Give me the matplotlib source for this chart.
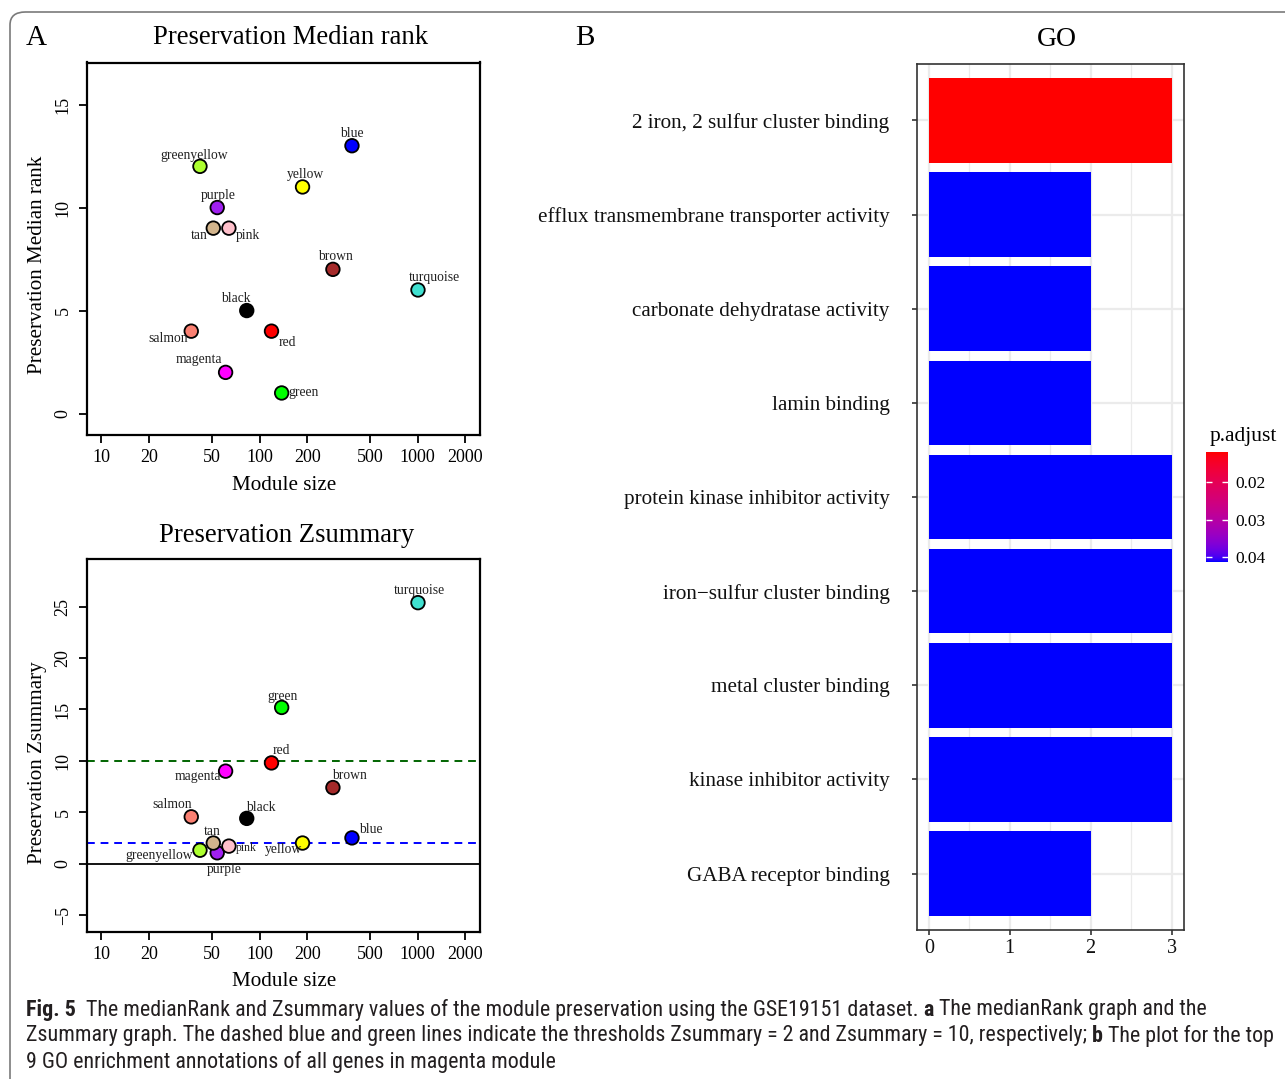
import numpy as np
import matplotlib
matplotlib.use("Agg")
import matplotlib.pyplot as plt
from matplotlib import font_manager
from matplotlib.colors import LinearSegmentedColormap, Normalize
from matplotlib.patches import FancyBboxPatch

# ---------------- data ----------------
modules = ['blue', 'greenyellow', 'yellow', 'purple', 'tan', 'pink', 'brown',
           'turquoise', 'black', 'salmon', 'red', 'magenta', 'green']
module_colors = ['#0000FF', '#ADFF2F', '#FFFF00', '#A020F0', '#D2B48C', '#FFC0CB', '#A52A2A',
                 '#40E0D0', '#000000', '#FA8072', '#FF0000', '#FF00FF', '#00FF00']
module_size = [384, 42, 187, 54, 51, 64, 291, 1004, 83, 37, 119, 61, 138]
median_rank = [13, 12, 11, 10, 9, 9, 7, 6, 5, 4, 4, 2, 1]
zsummary = [2.5, 1.3, 2.0, 1.05, 2.0, 1.7, 7.4, 25.4, 4.4, 4.55, 9.8, 9.0, 15.2]

size_ticks = [10, 20, 50, 100, 200, 500, 1000, 2000]
rank_ticks = [0, 5, 10, 15]
z_ticks = [-5, 0, 5, 10, 15, 20, 25]
z_thresholds = [2, 10]

go_terms = ['2 iron, 2 sulfur cluster binding',
            'efflux transmembrane transporter activity',
            'carbonate dehydratase activity',
            'lamin binding',
            'protein kinase inhibitor activity',
            'iron\u2212sulfur cluster binding',
            'metal cluster binding',
            'kinase inhibitor activity',
            'GABA receptor binding']
go_counts = [3, 2, 2, 2, 3, 3, 3, 3, 2]
go_padj = [0.0120, 0.0413, 0.0413, 0.0413, 0.0413, 0.0413, 0.0413, 0.0413, 0.0413]
padj_ticks = [0.02, 0.03, 0.04]
count_ticks = [0, 1, 2, 3]

# label placement offsets (points) for the two scatter panels: (dx, dy, ha, va)
top_offsets = {
    'blue': (0, 9, 'center', 'center'), 'greenyellow': (-4, 8, 'center', 'center'),
    'yellow': (2, 9, 'center', 'center'), 'purple': (1, 9, 'center', 'center'),
    'tan': (-4, -5, 'right', 'center'), 'pink': (5, -5, 'left', 'center'),
    'brown': (2, 9, 'center', 'center'), 'turquoise': (12, 9, 'center', 'center'),
    'black': (-8, 9, 'center', 'center'), 'salmon': (-2, -5, 'right', 'center'),
    'red': (5, -8, 'left', 'center'), 'magenta': (-19, 9, 'center', 'center'),
    'green': (5, 0, 'left', 'center'),
}
bot_offsets = {
    'turquoise': (1, 9, 'center', 'center'), 'green': (1, 8, 'center', 'center'),
    'red': (7, 9, 'center', 'center'), 'magenta': (-3, -4, 'right', 'center'),
    'brown': (12, 9, 'center', 'center'), 'salmon': (-14, 9, 'center', 'center'),
    'black': (10, 8, 'center', 'center'), 'blue': (5, 6, 'left', 'center'),
    'yellow': (-14, -5, 'center', 'center'), 'tan': (-1, 8, 'center', 'center'),
    'pink': (5, -1, 'left', 'center'), 'greenyellow': (-5, -4, 'right', 'center'),
    'purple': (5, -12, 'center', 'center'),
}

# ---------------- fonts ----------------
avail = {f.name for f in font_manager.fontManager.ttflist}
SERIF = 'Liberation Serif' if 'Liberation Serif' in avail else 'DejaVu Serif'
cap_font = 'DejaVu Sans'
for cand in ['Liberation Sans Narrow', 'Roboto Condensed', 'Open Sans Condensed', 'Liberation Sans']:
    if cand in avail:
        cap_font = cand
        break
plt.rcParams['font.family'] = [SERIF, 'DejaVu Serif']
plt.rcParams['mathtext.fontset'] = 'stix'

W, H = 1285, 1079
fig = plt.figure(figsize=(W / 100, H / 100), dpi=100)


def rect(l, t, r, b):
    return [l / W, 1 - b / H, (r - l) / W, (b - t) / H]


def fxy(x, y):
    return x / W, 1 - y / H


# outer rounded frame
frame = FancyBboxPatch(fxy(10, 1100), (1320 - 10) / W, (1100 - 12) / H,
                       boxstyle="round,pad=0,rounding_size=0.012",
                       transform=fig.transFigure, fill=False,
                       edgecolor='#7a7a7a', linewidth=1.2, clip_on=False)
fig.patches.append(frame)


def scatter_panel(ax, yvals, offsets, ylim, yticks):
    ax.set_xscale('log')
    ax.set_xlim(8.11, 2477)
    ax.set_ylim(*ylim)
    ax.scatter(module_size, yvals, s=95, c=module_colors, edgecolors='black',
               linewidths=1.3, zorder=3)
    for name, xs, yv in zip(modules, module_size, yvals):
        dx, dy, ha, va = offsets[name]
        fs = 8.4 if (name == 'pink' and offsets is bot_offsets) else 9.8
        ax.annotate(name, (xs, yv), xytext=(dx, dy), textcoords='offset points',
                    ha=ha, va=va, fontsize=fs, color='#222222', zorder=4)
    ax.set_xticks(size_ticks)
    ax.set_xticklabels([str(v) for v in size_ticks])
    ax.minorticks_off()
    ax.set_yticks(yticks)
    ax.set_yticklabels([str(v).replace('-', '\u2212') for v in yticks],
                       rotation=90, va='center')
    ax.tick_params(axis='both', direction='out', length=6, width=1.3,
                   labelsize=13, pad=4)
    ax.tick_params(axis='y', pad=5)
    for sp in ax.spines.values():
        sp.set_linewidth(1.6)


# --- top scatter
ax1 = fig.add_axes(rect(87, 62.5, 480, 435))
scatter_panel(ax1, median_rank, top_offsets, (-1.04, 17.04), rank_ticks)
fig.text(*fxy(291, 38), 'Preservation Median rank', ha='center', va='center', fontsize=19.2)
fig.text(*fxy(38, 265), 'Preservation Median rank', ha='center', va='center',
         rotation=90, fontsize=15.2)
fig.text(*fxy(284, 486), 'Module size', ha='center', va='center', fontsize=15.2)

# --- bottom scatter
ax2 = fig.add_axes(rect(87, 558.5, 480, 932.3))
ax2.axhline(0, color='black', linewidth=1.3, zorder=1)
ax2.axhline(z_thresholds[0], color='blue', linestyle=(0, (4, 3)), linewidth=1.4, zorder=1)
ax2.axhline(z_thresholds[1], color='#006400', linestyle=(0, (4, 3)), linewidth=1.4, zorder=1)
scatter_panel(ax2, zsummary, bot_offsets, (-6.69, 29.7), z_ticks)
fig.text(*fxy(287, 535), 'Preservation Zsummary', ha='center', va='center', fontsize=19.2)
fig.text(*fxy(38, 763), 'Preservation Zsummary', ha='center', va='center',
         rotation=90, fontsize=15.2)
fig.text(*fxy(284, 982), 'Module size', ha='center', va='center', fontsize=15.2)

fig.text(*fxy(36, 38), 'A', ha='center', va='center', fontsize=21)
fig.text(*fxy(585, 38), 'B', ha='center', va='center', fontsize=21)


# --- GO bar chart
def srgb_to_lab(rgb):
    rgb = np.asarray(rgb, float)
    lin = np.where(rgb <= 0.04045, rgb / 12.92, ((rgb + 0.055) / 1.055) ** 2.4)
    M = np.array([[0.4124, 0.3576, 0.1805], [0.2126, 0.7152, 0.0722], [0.0193, 0.1192, 0.9505]])
    xyz = M @ lin
    wp = np.array([0.95047, 1.0, 1.08883])
    t = xyz / wp
    f = np.where(t > (6 / 29) ** 3, np.cbrt(t), t / (3 * (6 / 29) ** 2) + 4 / 29)
    return np.array([116 * f[1] - 16, 500 * (f[0] - f[1]), 200 * (f[1] - f[2])])


def lab_to_srgb(lab):
    L, a, b = lab
    fy = (L + 16) / 116
    fx = fy + a / 500
    fz = fy - b / 200
    f = np.array([fx, fy, fz])
    t = np.where(f > 6 / 29, f ** 3, 3 * (6 / 29) ** 2 * (f - 4 / 29))
    xyz = t * np.array([0.95047, 1.0, 1.08883])
    Minv = np.array([[3.2406, -1.5372, -0.4986], [-0.9689, 1.8758, 0.0415], [0.0557, -0.2040, 1.0570]])
    lin = Minv @ xyz
    lin = np.clip(lin, 0, 1)
    rgb = np.where(lin <= 0.0031308, 12.92 * lin, 1.055 * lin ** (1 / 2.4) - 0.055)
    return np.clip(rgb, 0, 1)


lab_r = srgb_to_lab([1, 0, 0])
lab_b = srgb_to_lab([0, 0, 1])
cols = [lab_to_srgb(lab_r + (lab_b - lab_r) * t) for t in np.linspace(0, 1, 64)]
cmap = LinearSegmentedColormap.from_list('rb', cols)
norm = Normalize(vmin=min(go_padj), vmax=max(go_padj))

ax3 = fig.add_axes(rect(916.7, 64, 1183.7, 930))
ypos = np.arange(len(go_terms))[::-1] + 1
ax3.barh(ypos, go_counts, height=0.9, color=cmap(norm(go_padj)), zorder=3)
ax3.set_xlim(-0.15, 3.15)
ax3.set_ylim(0.4, len(go_terms) + 0.6)
ax3.set_xticks(count_ticks)
ax3.set_xticks([0.5, 1.5, 2.5], minor=True)
ax3.set_yticks(ypos)
ax3.set_yticklabels(go_terms)
ax3.grid(which='major', color='#EBEBEB', linewidth=1.6, zorder=0)
ax3.grid(which='minor', axis='x', color='#EBEBEB', linewidth=0.9, zorder=0)
ax3.tick_params(axis='both', which='major', direction='out', length=3.5, width=1.2,
                color='#333333', labelsize=15.2, labelcolor='#111111')
ax3.tick_params(axis='y', pad=16)
ax3.tick_params(axis='x', labelsize=14.5, pad=3)
ax3.tick_params(which='minor', length=0)
for sp in ax3.spines.values():
    sp.set_color('#333333')
    sp.set_linewidth(1.2)
ax3.set_axisbelow(True)
fig.text(*fxy(1057, 39), 'GO', ha='center', va='center', fontsize=20)

# colorbar
cax = fig.add_axes(rect(1206, 452, 1228, 562))
grad = np.linspace(min(go_padj), max(go_padj), 256).reshape(-1, 1)
cax.imshow(grad, aspect='auto', cmap=cmap, norm=norm,
           extent=[0, 1, min(go_padj), max(go_padj)], origin='lower')
cax.set_ylim(max(go_padj), min(go_padj))
cax.set_xlim(0, 1)
cax.set_xticks([])
cax.set_yticks(padj_ticks)
cax.set_yticklabels([f'{v:.2f}' for v in padj_ticks])
cax.yaxis.tick_right()
cax.tick_params(axis='y', direction='in', length=4, width=1.0, color='white',
                left=True, right=True, labelsize=12.5, pad=5)
for sp in cax.spines.values():
    sp.set_visible(False)
fig.text(*fxy(1243, 437), 'p.adjust', ha='center', va='center', fontsize=15.5)

# --- caption
cap_size = 15.8
renderer = fig.canvas.get_renderer()


def runs(x, y, parts):
    xf, yf = fxy(x, y)
    for txt, wt in parts:
        t = fig.text(xf, yf, txt, ha='left', va='center', fontsize=cap_size,
                     family=[cap_font, 'DejaVu Sans'], weight=wt, color='#231f20')
        bb = t.get_window_extent(renderer=renderer)
        xf = bb.x1 / (fig.dpi * fig.get_figwidth())


caption_lines = [
    [('Fig. 5', 'bold'), ('  The medianRank and Zsummary values of the module preservation using the GSE19151 dataset. ', 'normal'),
     ('a', 'bold'), (' The medianRank graph and the', 'normal')],
    [('Zsummary graph. The dashed blue and green lines indicate the thresholds Zsummary = 2 and Zsummary = 10, respectively; ', 'normal'),
     ('b', 'bold'), (' The plot for the top', 'normal')],
    [('9 GO enrichment annotations of all genes in magenta module', 'normal')],
]
for i, line in enumerate(caption_lines):
    runs(26, 1010 + 26 * i, line)

fig.savefig('out.png', dpi=100)
